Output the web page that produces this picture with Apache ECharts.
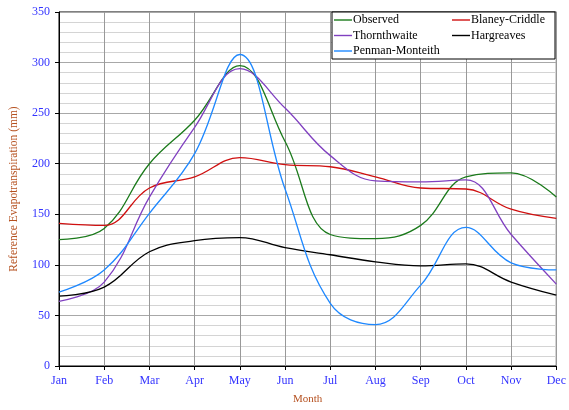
<!DOCTYPE html>
<html>
<head>
<meta charset="utf-8">
<script src="https://cdn.jsdelivr.net/npm/echarts@6/dist/echarts.min.js"></script>
<style>
  html, body { margin: 0; padding: 0; background: #fff; }
  #chart { width: 569px; height: 410px; }
</style>
</head>
<body>
<div id="chart"></div>
<script>
// Monthly reference evapotranspiration (mm) by estimation method
const months = ['Jan', 'Feb', 'Mar', 'Apr', 'May', 'Jun', 'Jul', 'Aug', 'Sep', 'Oct', 'Nov', 'Dec'];
const observed       = [125, 136, 200, 243, 297, 222, 130, 126, 139, 187, 191, 167];
const blaneyCriddle  = [141, 139, 176, 187, 206, 199, 197, 187, 176, 175, 155, 146];
const thornthwaite   = [64, 83, 167, 236, 294, 255, 208, 183, 182, 184, 130, 81];
const hargreaves     = [69, 78, 113, 124, 127, 117, 110, 103, 99, 101, 83, 70];
const penmanMonteith = [73, 95, 151, 210, 308, 175, 62, 41, 80, 137, 102, 95];

const serif = '"Liberation Serif", "DejaVu Serif", serif';
const tickBlue = '#3333ff';
const nameBrown = '#b5501f';

function line(name, data, color) {
  return {
    name: name,
    type: 'line',
    data: data,
    smooth: 0.4,
    symbol: 'none',
    lineStyle: { color: color, width: 1.3 },
    itemStyle: { color: color },
    z: 3
  };
}

const legendBase = {
  orient: 'vertical',
  top: 14,
  padding: 0,
  icon: 'rect',
  itemWidth: 18, itemHeight: 1.4, itemGap: 3.5,
  textStyle: { color: '#000', fontFamily: serif, fontSize: 12, padding: [0, 0, 0, -4] },
  z: 10
};

const chart = echarts.init(document.getElementById('chart'), null, { renderer: 'canvas' });
chart.setOption({
  animation: false,
  backgroundColor: '#fff',
  grid: {
    left: 57, right: 10, top: 12, bottom: 43,
    show: true, borderColor: '#000', borderWidth: 1, backgroundColor: 'transparent'
  },
  xAxis: {
    type: 'category',
    data: months,
    boundaryGap: false,
    name: 'Month',
    nameLocation: 'middle',
    nameGap: 28,
    nameTextStyle: { color: nameBrown, fontFamily: serif, fontSize: 11 },
    axisLine: { lineStyle: { color: '#000', width: 1 } },
    axisTick: { show: true, length: 4, lineStyle: { color: '#000' } },
    axisLabel: { color: tickBlue, fontFamily: serif, fontSize: 12, margin: 9 },
    splitLine: { show: true, lineStyle: { color: '#999', width: 1 } }
  },
  yAxis: {
    type: 'value',
    min: 0, max: 350, interval: 50,
    name: 'Reference Evapotranspiration (mm)',
    nameLocation: 'middle',
    nameGap: 39,
    nameTextStyle: { color: nameBrown, fontFamily: serif, fontSize: 11.5 },
    axisLine: { show: true, lineStyle: { color: '#000', width: 1 } },
    axisTick: { show: true, length: 4, lineStyle: { color: '#000' } },
    axisLabel: { color: tickBlue, fontFamily: serif, fontSize: 12, margin: 9 },
    splitLine: { show: true, lineStyle: { color: '#a8a8a8', width: 1 } },
    minorTick: { show: false, splitNumber: 5 },
    minorSplitLine: { show: true, lineStyle: { color: '#d4d4d4', width: 1 } }
  },
  legend: [
    Object.assign({}, legendBase, {
      data: ['Observed', 'Thornthwaite', 'Penman-Monteith'],
      left: 334
    }),
    Object.assign({}, legendBase, {
      data: ['Blaney-Criddle', 'Hargreaves'],
      left: 452
    })
  ],
  graphic: [
    {
      type: 'rect',
      shape: { x: 332, y: 12, width: 223, height: 47 },
      style: { fill: '#fff', stroke: '#000', lineWidth: 1 },
      z: 5
    }
  ],
  series: [
    line('Observed', observed, '#1b7a1b'),
    line('Blaney-Criddle', blaneyCriddle, '#d01010'),
    line('Thornthwaite', thornthwaite, '#8040c0'),
    line('Hargreaves', hargreaves, '#000000'),
    line('Penman-Monteith', penmanMonteith, '#1e88ff')
  ]
});
</script>
</body>
</html>
